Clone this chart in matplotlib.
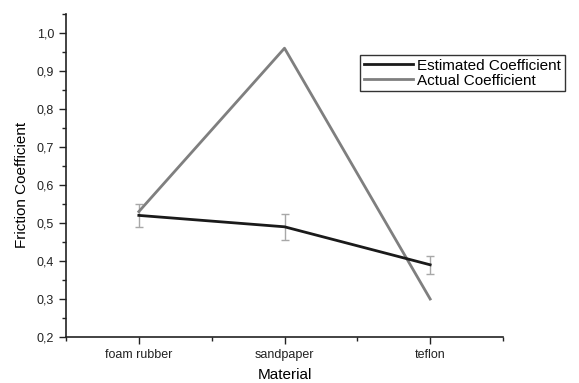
import matplotlib
matplotlib.use("Agg")
import matplotlib.pyplot as plt
from matplotlib.lines import Line2D
from matplotlib.ticker import MultipleLocator, FixedLocator, FuncFormatter

materials = ["foam rubber", "sandpaper", "teflon"]
estimated = [0.52, 0.49, 0.39]
estimated_err = [0.03, 0.035, 0.023]
actual = [0.53, 0.96, 0.30]

plt.rcParams['font.family'] = ['Liberation Sans', 'DejaVu Sans']

fig = plt.figure(figsize=(5.79, 3.83), dpi=100)
ax = fig.add_axes([66/579, 1-337/383, (503-66)/579, (337-14)/383])

x = list(range(len(materials)))
ax.errorbar(x, estimated, yerr=estimated_err, fmt='none', ecolor='#a8a8a8',
            elinewidth=1.0, capsize=3, capthick=1.0, zorder=1)
ax.plot(x, actual, color='#7f7f7f', lw=2.0, zorder=2)
ax.plot(x, estimated, color='#1a1a1a', lw=2.0, zorder=3)

ax.set_xlim(-0.5, 2.5)
ax.set_ylim(0.2, 1.05)
ax.set_xticks(x)
ax.set_xticklabels(materials, fontsize=9)
ax.xaxis.set_minor_locator(FixedLocator([-0.5, 0.5, 1.5, 2.5]))
ax.yaxis.set_major_locator(FixedLocator([0.2, 0.3, 0.4, 0.5, 0.6, 0.7, 0.8, 0.9, 1.0]))
ax.yaxis.set_minor_locator(MultipleLocator(0.05))
ax.yaxis.set_major_formatter(FuncFormatter(lambda v, p: f"{v:.1f}".replace('.', ',')))
ax.tick_params(axis='y', labelsize=9)
ax.tick_params(which='major', length=5, width=1, direction='out', colors='#222222')
ax.tick_params(which='minor', length=3, width=1, direction='out', colors='#222222')
for s in ['top', 'right']:
    ax.spines[s].set_visible(False)
for s in ['left', 'bottom']:
    ax.spines[s].set_linewidth(1.2)
    ax.spines[s].set_color('#222222')

ax.set_xlabel("Material", fontsize=11, labelpad=5)
ax.set_ylabel("Friction Coefficient", fontsize=11, labelpad=5)
ax.yaxis.set_label_coords(-0.085, 0.47)

handles = [Line2D([], [], color='#1a1a1a', lw=2), Line2D([], [], color='#7f7f7f', lw=2)]
leg = fig.legend(handles, ["Estimated Coefficient", "Actual Coefficient"],
                 loc='upper left', bbox_to_anchor=(360/579, 1-55/383), fontsize=11,
                 frameon=True, fancybox=False, edgecolor='#333333', framealpha=1,
                 handlelength=3.2, handletextpad=0.3, borderpad=0.25, labelspacing=0.05,
                 borderaxespad=0)
leg.get_frame().set_linewidth(1.0)

fig.savefig("out.png", dpi=100)
